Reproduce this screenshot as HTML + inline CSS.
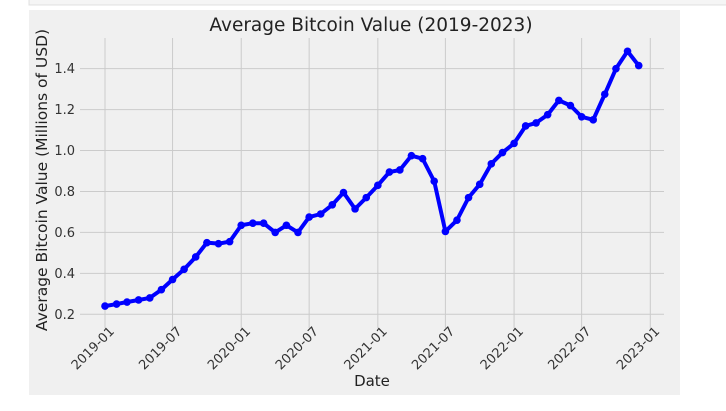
<!DOCTYPE html>
<html><head><meta charset="utf-8"><style>
body{margin:0;background:#fff;width:726px;height:406px;overflow:hidden;font-family:"Liberation Sans","DejaVu Sans",sans-serif}
</style></head><body>
<svg id="chart" width="726" height="406" xmlns="http://www.w3.org/2000/svg" font-family="DejaVu Sans, Liberation Sans, sans-serif">
<rect x="29" y="-1" width="698" height="6" fill="#f5f5f5" stroke="#e0e0e0"/>
<rect x="29" y="10" width="651" height="385" fill="#f0f0f0"/>
<g id="grid"></g><g id="axes"></g><g id="series"></g>
<text x="371" y="31" text-anchor="middle" font-size="18.5" fill="#222">Average Bitcoin Value (2019-2023)</text>
<text x="372" y="386" text-anchor="middle" font-size="15" fill="#222">Date</text>
<text transform="translate(47,180) rotate(-90)" text-anchor="middle" font-size="15.5" fill="#222">Average Bitcoin Value (Millions of USD)</text>
</svg>
<script>
const values = [0.24,0.25,0.26,0.27,0.28,0.32,0.37,0.42,0.48,0.55,0.545,0.555,
0.635,0.645,0.645,0.60,0.635,0.60,0.675,0.69,0.735,0.795,0.715,0.77,
0.83,0.895,0.905,0.975,0.96,0.85,0.605,0.66,0.77,0.835,0.935,0.99,
1.035,1.12,1.135,1.175,1.245,1.22,1.165,1.15,1.275,1.40,1.485,1.415];
const startYear = 2019;
const yTicks = [0.2,0.4,0.6,0.8,1.0,1.2,1.4];
const xTickLabels = ["2019-01","2019-07","2020-01","2020-07","2021-01","2021-07","2022-01","2022-07","2023-01"];
const NS="http://www.w3.org/2000/svg";
const t0=Date.UTC(2019,0,1), t1=Date.UTC(2023,0,1);
const X0=105, X1=650.3, L=80, R=664, T=38, B=322;
function xs(t){return X0+(t-t0)/(t1-t0)*(X1-X0);}
function ys(v){return 314.3-(v-0.2)*204.7;}
function mk(tag,attrs,parent){const e=document.createElementNS(NS,tag);for(const k in attrs)e.setAttribute(k,attrs[k]);parent.appendChild(e);return e;}
const grid=document.getElementById('grid'),axes=document.getElementById('axes'),series=document.getElementById('series');
yTicks.forEach(v=>{const y=ys(v);
 const g=mk('line',{x1:L,x2:R,y1:y,y2:y,stroke:'#cbcbcb','stroke-width':1},grid);
 
 
 const t=mk('text',{x:75,y:y+4.5,'text-anchor':'end','font-size':13,fill:'#333'},axes);
 t.textContent=v.toFixed(1);
 
 
});
xTickLabels.forEach(s=>{const [yy,mm]=s.split('-').map(Number);const x=xs(Date.UTC(yy,mm-1,1));
 const g=mk('line',{x1:x,x2:x,y1:T,y2:B+6,stroke:'#cbcbcb','stroke-width':1},grid);
 
 
 const t=mk('text',{transform:`translate(${x+10},${B+10}) rotate(-45)`,'text-anchor':'end','font-size':13,fill:'#333'},axes);
 t.textContent=s;
 
 
});
const pts=values.map((v,i)=>[xs(Date.UTC(startYear,i,1)),ys(v)]);
const pl=mk('polyline',{points:pts.map(p=>p.join(',')).join(' '),fill:'none',stroke:'#0000ff','stroke-width':4,'stroke-linejoin':'round'},series);


pts.forEach(p=>{const c=mk('circle',{cx:p[0],cy:p[1],r:3.8,fill:'#0000ff'},series);
 
 
});
</script>
</body></html>
